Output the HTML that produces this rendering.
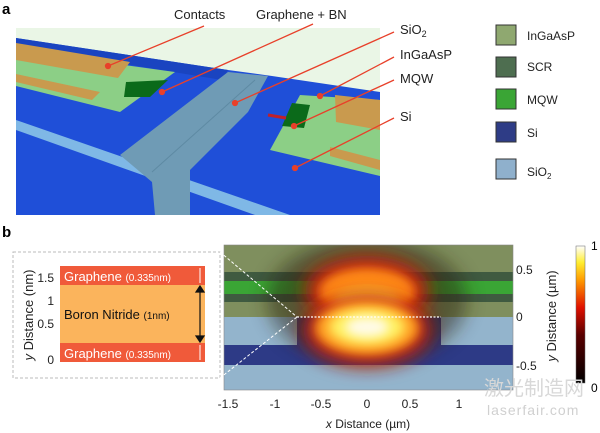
<!DOCTYPE html>
<html><head><meta charset="utf-8"><style>
html,body{margin:0;padding:0;background:#fff;}
svg{display:block;font-family:"Liberation Sans","Noto Sans CJK SC",sans-serif;}
</style></head><body>
<svg width="600" height="433" viewBox="0 0 600 433" xmlns="http://www.w3.org/2000/svg">
<defs>
<filter id="bl" x="-50%" y="-50%" width="200%" height="200%"><feGaussianBlur stdDeviation="9"/></filter>
<filter id="bl2" x="-50%" y="-50%" width="200%" height="200%"><feGaussianBlur stdDeviation="5"/></filter>
<linearGradient id="cb" x1="0" y1="1" x2="0" y2="0">
<stop offset="0" stop-color="#000"/><stop offset="0.35" stop-color="#5a0000"/>
<stop offset="0.55" stop-color="#e01000"/><stop offset="0.75" stop-color="#ff9a00"/>
<stop offset="0.88" stop-color="#ffee30"/><stop offset="1" stop-color="#fff"/></linearGradient>
<clipPath id="pc"><rect x="224" y="245" width="289" height="145"/></clipPath>
</defs>

<!-- Panel a -->
<text x="2" y="14" font-size="15" font-weight="bold">a</text>
<rect x="16" y="28" width="364" height="187" fill="#eaf6e6"/>
<polygon points="16,38 228,70 272,76 380,92 380,215 16,215" fill="#1f4fd8"/>
<polygon points="16,38 228,70 222,80 16,46" fill="#1a44c0"/>
<polygon points="16,120 16,130 255,215 290,215" fill="#7fb8e6"/>
<polygon points="228,72 268,76 248,112 190,170 190,215 155,215 152,182 120,155" fill="#6f9bb5"/>
<line x1="152" y1="172" x2="255" y2="80" stroke="#5e8aa3" stroke-width="1"/>
<polygon points="16,50 175,72 120,112 16,86" fill="#8ccf86"/>
<polygon points="16,43 130,62 118,78 16,60" fill="#c99a4e"/>
<polygon points="16,74 100,92 92,100 16,82" fill="#c99a4e"/>
<polygon points="126,82 168,80 150,97 124,97" fill="#0b6a1a"/>
<polygon points="300,95 380,100 380,176 270,150 282,128" fill="#8ccf86"/>
<polygon points="335,95 380,100 380,130 336,122" fill="#c99a4e"/>
<polygon points="330,147 380,160 380,170 330,156" fill="#c99a4e"/>
<polygon points="292,103 310,105 304,128 282,126" fill="#0b6a1a"/>
<line x1="268" y1="115" x2="286" y2="118" stroke="#c0202a" stroke-width="3"/>
<g stroke="#e8402a" stroke-width="1.3" fill="#e8402a">
<line x1="204" y1="26" x2="108" y2="66"/><circle cx="108" cy="66" r="2.5"/>
<line x1="313" y1="24" x2="162" y2="92"/><circle cx="162" cy="92" r="2.5"/>
<line x1="394" y1="32" x2="235" y2="103"/><circle cx="235" cy="103" r="2.5"/>
<line x1="394" y1="57" x2="320" y2="96"/><circle cx="320" cy="96" r="2.5"/>
<line x1="394" y1="80" x2="294" y2="126"/><circle cx="294" cy="126" r="2.5"/>
<line x1="394" y1="118" x2="295" y2="168"/><circle cx="295" cy="168" r="2.5"/>
</g>
<g font-size="13" fill="#222">
<text x="174" y="19">Contacts</text>
<text x="256" y="19">Graphene + BN</text>
<text x="400" y="34">SiO<tspan font-size="9" dy="3">2</tspan></text>
<text x="400" y="59">InGaAsP</text>
<text x="400" y="83">MQW</text>
<text x="400" y="121">Si</text>
</g>
<!-- Legend -->
<g stroke="#333" stroke-width="1">
<rect x="496" y="25" width="20" height="20" fill="#8fa870"/>
<rect x="496" y="57" width="20" height="20" fill="#4e6e50"/>
<rect x="496" y="89" width="20" height="20" fill="#3aa535"/>
<rect x="496" y="122" width="20" height="20" fill="#2e3c86"/>
<rect x="496" y="159" width="20" height="20" fill="#8fb0cc"/>
</g>
<g font-size="12" fill="#222">
<text x="527" y="40">InGaAsP</text>
<text x="527" y="71">SCR</text>
<text x="527" y="104">MQW</text>
<text x="527" y="137">Si</text>
<text x="527" y="176">SiO<tspan font-size="8" dy="3">2</tspan></text>
</g>

<!-- Panel b -->
<text x="2" y="237" font-size="15" font-weight="bold">b</text>
<g clip-path="url(#pc)">
<rect x="224" y="245" width="289" height="72" fill="#7f8f5e"/>
<rect x="224" y="272" width="289" height="9" fill="#3f5a40"/>
<rect x="224" y="281" width="289" height="13" fill="#3aa535"/>
<rect x="224" y="294" width="289" height="8" fill="#3f5a40"/>
<rect x="224" y="317" width="289" height="73" fill="#93b4cc"/>
<rect x="297" y="317" width="144" height="28" fill="#2d3a86"/>
<rect x="224" y="345" width="289" height="20" fill="#2d3a86"/>
<ellipse cx="367" cy="300" rx="100" ry="62" fill="#2a2010" opacity="0.5" filter="url(#bl)"/>
<ellipse cx="367" cy="290" rx="62" ry="34" fill="#c02010" filter="url(#bl)"/>
<ellipse cx="367" cy="292" rx="48" ry="24" fill="#ff8a18" filter="url(#bl2)"/>
<ellipse cx="367" cy="300" rx="32" ry="12" fill="#ffd040" filter="url(#bl2)"/>
<ellipse cx="367" cy="330" rx="64" ry="36" fill="#c02010" filter="url(#bl)"/>
<ellipse cx="367" cy="328" rx="52" ry="27" fill="#ffa020" filter="url(#bl2)"/>
<ellipse cx="367" cy="327" rx="38" ry="18" fill="#fff060" filter="url(#bl2)"/>
<ellipse cx="367" cy="327" rx="22" ry="10" fill="#fffbe8" filter="url(#bl2)"/>
</g>
<line x1="297" y1="317" x2="441" y2="317" stroke="#fff" stroke-width="1.2" stroke-dasharray="2,1.5"/>
<rect x="224" y="245" width="289" height="145" fill="none" stroke="#888" stroke-width="0.6"/>
<g font-size="12" fill="#222" text-anchor="middle">
<text x="228" y="408">-1.5</text><text x="275" y="408">-1</text><text x="321" y="408">-0.5</text>
<text x="367" y="408">0</text><text x="410" y="408">0.5</text><text x="459" y="408">1</text>
<text x="368" y="428"><tspan font-style="italic">x</tspan> Distance (µm)</text>
</g>
<g font-size="12" fill="#222">
<text x="516" y="274">0.5</text><text x="516" y="321">0</text><text x="516" y="370">-0.5</text>
</g>
<text transform="translate(556,316) rotate(-90)" font-size="13" text-anchor="middle" fill="#222"><tspan font-style="italic">y</tspan> Distance (µm)</text>
<rect x="576" y="246" width="9" height="137" fill="url(#cb)" stroke="#666" stroke-width="0.5"/>
<text x="591" y="250" font-size="12">1</text><text x="591" y="392" font-size="12">0</text>

<!-- Inset -->
<rect x="13" y="252" width="207" height="126" fill="#fff" stroke="#bbb" stroke-dasharray="3,2"/>
<line x1="220" y1="252" x2="297" y2="317" stroke="#fff" stroke-width="1" stroke-dasharray="3,2"/>
<line x1="220" y1="378" x2="297" y2="317" stroke="#fff" stroke-width="1" stroke-dasharray="3,2"/>
<rect x="60" y="266" width="145" height="19" fill="#f05a3a"/>
<rect x="60" y="285" width="145" height="58" fill="#fbb45c"/>
<rect x="60" y="343" width="145" height="19" fill="#f05a3a"/>
<g font-size="13" fill="#fff">
<text x="64" y="281">Graphene <tspan font-size="10">(0.335nm)</tspan></text>
<text x="64" y="358">Graphene <tspan font-size="10">(0.335nm)</tspan></text>
</g>
<text x="64" y="319" font-size="13" fill="#111">Boron Nitride <tspan font-size="10">(1nm)</tspan></text>
<g stroke="#111" stroke-width="1.2" fill="#111">
<line x1="200" y1="289" x2="200" y2="339"/>
<polygon points="196,292 204,292 200,286"/><polygon points="196,336 204,336 200,342"/>
</g>
<g stroke="#fff" stroke-width="1"><line x1="200" y1="268" x2="200" y2="283"/><line x1="200" y1="345" x2="200" y2="360"/></g>
<g font-size="12" fill="#222" text-anchor="end">
<text x="54" y="282">1.5</text><text x="54" y="305">1</text><text x="54" y="328">0.5</text><text x="54" y="364">0</text>
</g>
<text transform="translate(33,315) rotate(-90)" font-size="13" text-anchor="middle" fill="#222"><tspan font-style="italic">y</tspan> Distance (nm)</text>

<!-- watermark -->
<text x="484" y="395" font-size="20" fill="#d8d8d8">激光制造网</text>
<text x="487" y="415" font-size="14" fill="#d0d0d0" letter-spacing="1">laserfair.com</text>
</svg>
</body></html>
